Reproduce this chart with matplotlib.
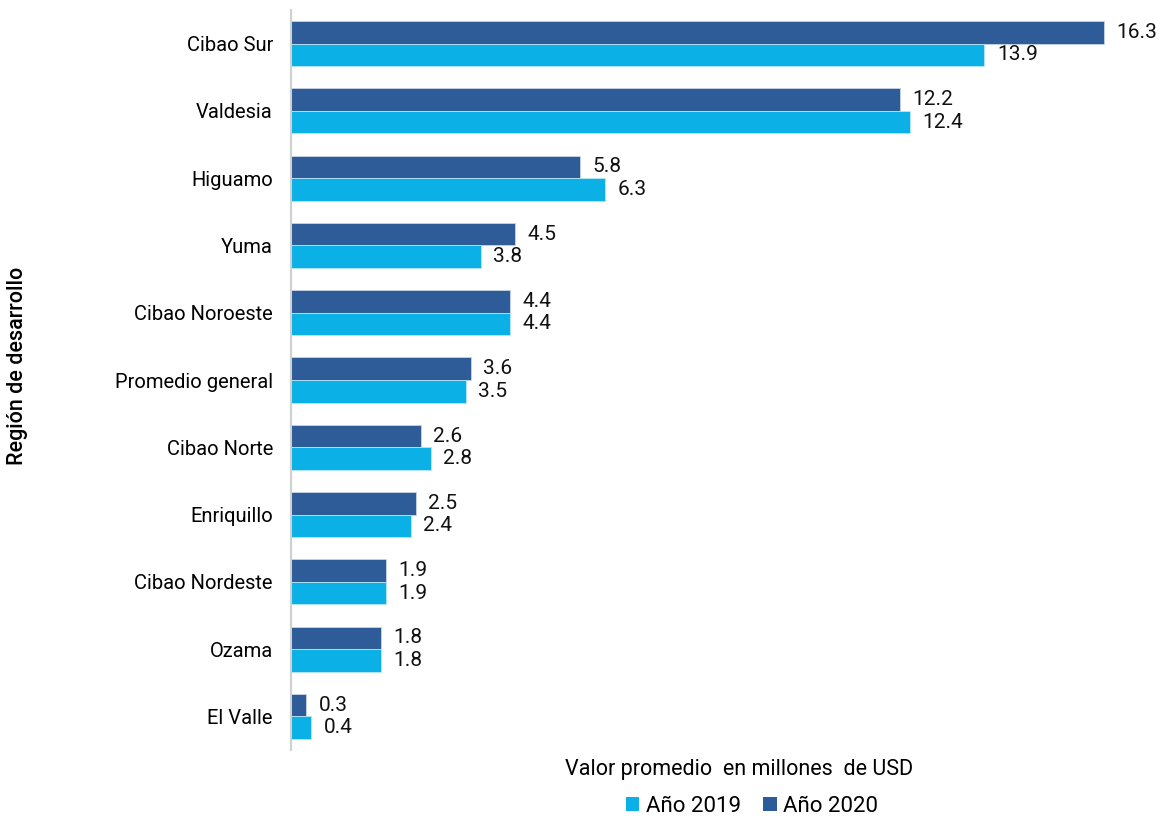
import numpy as np
import matplotlib.pyplot as plt
from matplotlib.patches import Patch

plt.rcParams["font.family"] = ["Roboto", "DejaVu Sans"]

regions = ["Cibao Sur", "Valdesia", "Higuamo", "Yuma", "Cibao Noroeste",
           "Promedio general", "Cibao Norte", "Enriquillo", "Cibao Nordeste",
           "Ozama", "El Valle"]
v2020 = [16.3, 12.2, 5.8, 4.5, 4.4, 3.6, 2.6, 2.5, 1.9, 1.8, 0.3]
v2019 = [13.9, 12.4, 6.3, 3.8, 4.4, 3.5, 2.8, 2.4, 1.9, 1.8, 0.4]

c2019 = "#0AB0E6"
c2020 = "#2E5C99"

fig = plt.figure(figsize=(11.64, 8.18), dpi=100)
ax = fig.add_axes([291 / 1164, 1 - 750 / 818, 1 - 291 / 1164, 740 / 818])

y = np.arange(len(regions))
h = 0.335
b20 = ax.barh(y - h / 2, v2020, height=h, color=c2020, edgecolor="#c8d4e6", linewidth=0.6)
b19 = ax.barh(y + h / 2, v2019, height=h, color=c2019, edgecolor="#b8e6f7", linewidth=0.6)

for bars, vals in ((b20, v2020), (b19, v2019)):
    for bar, v in zip(bars, vals):
        ax.annotate(f"{v:.1f}", (bar.get_width(), bar.get_y() + bar.get_height() / 2),
                    xytext=(9, 0), textcoords="offset points",
                    va="center", ha="left", fontsize=15, color="#111111")

ax.set_ylim(len(regions) - 0.5, -0.5)
ax.set_xlim(0, 17.5)
ax.set_yticks(y)
ax.set_yticklabels(regions, fontsize=14.5)
ax.tick_params(axis="y", length=0, pad=13)
ax.set_xticks([])
for s in ("top", "right", "bottom"):
    ax.spines[s].set_visible(False)
ax.spines["left"].set_color("#d0d0d0")
ax.spines["left"].set_linewidth(1.5)

fig.text(739 / 1164, 1 - 770 / 818, "Valor promedio  en millones  de USD",
         ha="center", va="center", fontsize=15.5)
fig.text(18 / 1164, 1 - 366 / 818, "Región de desarrollo", rotation=90,
         ha="center", va="center", fontsize=15.5, fontweight="medium")

handles = [Patch(facecolor=c2019, label="Año 2019"), Patch(facecolor=c2020, label="Año 2020")]
fig.legend(handles=handles, loc="center", bbox_to_anchor=(752 / 1164, 1 - 806 / 818),
           ncol=2, frameon=False, fontsize=16, handlelength=0.6, handleheight=0.6,
           handletextpad=0.3, columnspacing=1.0)

fig.savefig("out.png", dpi=100)
